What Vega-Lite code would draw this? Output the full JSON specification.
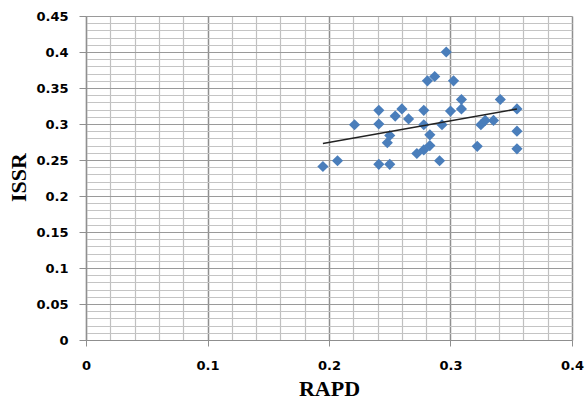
{
  "$schema": "https://vega.github.io/schema/vega-lite/v6.json",
  "width": 486,
  "height": 324,
  "autosize": "none",
  "padding": {"left": 86, "top": 16, "right": 13, "bottom": 61},
  "background": "white",
  "config": {"view": {"stroke": null}},
  "data": {
    "values": [
      {"RAPD": 0.195, "ISSR": 0.241},
      {"RAPD": 0.207, "ISSR": 0.249},
      {"RAPD": 0.221, "ISSR": 0.299},
      {"RAPD": 0.241, "ISSR": 0.319},
      {"RAPD": 0.241, "ISSR": 0.300},
      {"RAPD": 0.241, "ISSR": 0.244},
      {"RAPD": 0.250, "ISSR": 0.284},
      {"RAPD": 0.248, "ISSR": 0.274},
      {"RAPD": 0.250, "ISSR": 0.244},
      {"RAPD": 0.2545, "ISSR": 0.311},
      {"RAPD": 0.260, "ISSR": 0.321},
      {"RAPD": 0.2655, "ISSR": 0.307},
      {"RAPD": 0.2723, "ISSR": 0.259},
      {"RAPD": 0.278, "ISSR": 0.319},
      {"RAPD": 0.278, "ISSR": 0.299},
      {"RAPD": 0.278, "ISSR": 0.264},
      {"RAPD": 0.283, "ISSR": 0.270},
      {"RAPD": 0.283, "ISSR": 0.285},
      {"RAPD": 0.291, "ISSR": 0.249},
      {"RAPD": 0.293, "ISSR": 0.299},
      {"RAPD": 0.281, "ISSR": 0.360},
      {"RAPD": 0.287, "ISSR": 0.366},
      {"RAPD": 0.2965, "ISSR": 0.400},
      {"RAPD": 0.300, "ISSR": 0.318},
      {"RAPD": 0.3025, "ISSR": 0.360},
      {"RAPD": 0.309, "ISSR": 0.334},
      {"RAPD": 0.309, "ISSR": 0.321},
      {"RAPD": 0.322, "ISSR": 0.269},
      {"RAPD": 0.325, "ISSR": 0.299},
      {"RAPD": 0.3286, "ISSR": 0.305},
      {"RAPD": 0.3354, "ISSR": 0.305},
      {"RAPD": 0.341, "ISSR": 0.334},
      {"RAPD": 0.3547, "ISSR": 0.321},
      {"RAPD": 0.3547, "ISSR": 0.290},
      {"RAPD": 0.3547, "ISSR": 0.2655}
    ]
  },
  "encoding": {
    "x": {
      "field": "RAPD",
      "type": "quantitative",
      "scale": {"domain": [0, 0.4], "nice": false, "zero": true},
      "axis": {
        "orient": "bottom",
        "values": [0, 0.02, 0.04, 0.06, 0.08, 0.1, 0.12, 0.14, 0.16, 0.18, 0.2, 0.22, 0.24, 0.26, 0.28, 0.3, 0.32, 0.34, 0.36, 0.38, 0.4],
        "grid": true,
        "gridColor": {"condition": {"test": "abs(datum.value*10 - round(datum.value*10)) < 1e-6", "value": "#8f8f8f"}, "value": "#c0c0c0"},
        "gridWidth": {"condition": {"test": "abs(datum.value*10 - round(datum.value*10)) < 1e-6", "value": 1.5}, "value": 1.2},
        "domainColor": "#8f8f8f",
        "domainWidth": 1.2,
        "tickColor": "#8f8f8f",
        "tickSize": 6,
        "tickOpacity": {"condition": {"test": "abs(datum.value*10 - round(datum.value*10)) < 1e-6", "value": 1}, "value": 0},
        "labelExpr": "abs(datum.value*10 - round(datum.value*10)) < 1e-6 ? format(datum.value, '~g') : ''",
        "labelOverlap": false,
        "labelBound": false,
        "labelFlush": false,
        "labelFont": "DejaVu Sans",
        "labelFontWeight": "bold",
        "labelFontSize": 13,
        "labelColor": "#000000",
        "labelPadding": 13,
        "title": "RAPD",
        "titleFont": "Liberation Serif",
        "titleFontSize": 22,
        "titleFontWeight": "bold",
        "titleColor": "#000000",
        "titleX": 243,
        "titleY": 55,
        "titleBaseline": "alphabetic",
        "titleAlign": "center"
      }
    },
    "y": {
      "field": "ISSR",
      "type": "quantitative",
      "scale": {"domain": [0, 0.45], "nice": false, "zero": true},
      "axis": {
        "orient": "left",
        "values": [0, 0.01, 0.02, 0.03, 0.04, 0.05, 0.06, 0.07, 0.08, 0.09, 0.1, 0.11, 0.12, 0.13, 0.14, 0.15, 0.16, 0.17, 0.18, 0.19, 0.2, 0.21, 0.22, 0.23, 0.24, 0.25, 0.26, 0.27, 0.28, 0.29, 0.3, 0.31, 0.32, 0.33, 0.34, 0.35, 0.36, 0.37, 0.38, 0.39, 0.4, 0.41, 0.42, 0.43, 0.44, 0.45],
        "grid": true,
        "gridColor": {"condition": {"test": "abs(datum.value*20 - round(datum.value*20)) < 1e-6", "value": "#9a9a9a"}, "value": "#c4c4c4"},
        "gridWidth": 1.2,
        "domainColor": "#8f8f8f",
        "domainWidth": 1.2,
        "tickColor": "#8f8f8f",
        "tickSize": 7,
        "tickOpacity": {"condition": {"test": "abs(datum.value*20 - round(datum.value*20)) < 1e-6", "value": 1}, "value": 0},
        "labelExpr": "abs(datum.value*20 - round(datum.value*20)) < 1e-6 ? format(datum.value, '~g') : ''",
        "labelOverlap": false,
        "labelBound": false,
        "labelFlush": false,
        "labelFont": "DejaVu Sans",
        "labelFontWeight": "bold",
        "labelFontSize": 13,
        "labelColor": "#000000",
        "labelPadding": 11,
        "title": "ISSR",
        "titleFont": "Liberation Serif",
        "titleFontSize": 22,
        "titleFontWeight": "bold",
        "titleColor": "#000000",
        "titleAngle": 270,
        "titleX": -61,
        "titleY": 161,
        "titleBaseline": "alphabetic",
        "titleAlign": "center"
      }
    }
  },
  "layer": [
    {
      "mark": {"type": "point", "shape": "diamond", "filled": true, "size": 125, "color": "#4a7ebb", "opacity": 1}
    },
    {
      "transform": [{"regression": "ISSR", "on": "RAPD"}],
      "mark": {"type": "line", "color": "#222222", "strokeWidth": 1.5}
    }
  ]
}
